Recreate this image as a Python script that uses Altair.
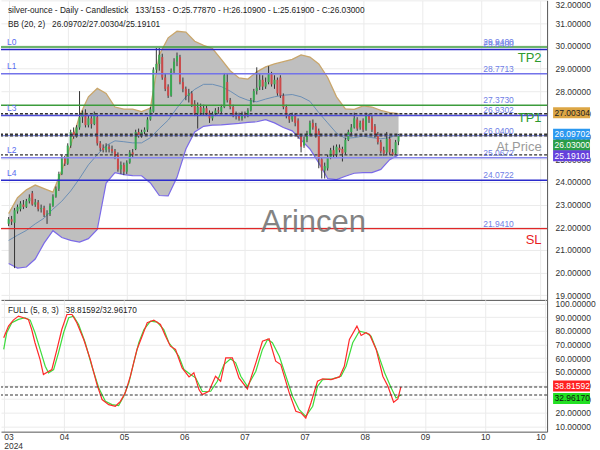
import altair as alt
import pandas as pd

# ---------------- data ----------------
opens = [22.15, 22.35, 22.20, 22.70, 22.80, 23.00, 22.90, 23.15, 23.50, 23.00,
         23.10, 22.80, 22.85, 22.55, 22.60, 22.95, 23.35, 23.70, 24.35, 25.05,
         24.80, 25.60, 26.20, 26.00, 26.40, 26.85, 27.05, 26.50, 26.80, 26.55,
         26.85, 25.70, 25.50, 25.40, 25.55, 25.45, 25.35, 25.20, 24.55, 24.75,
         24.45, 24.85, 25.30, 25.45, 26.20, 26.05, 26.20, 26.30, 26.75, 27.10,
         28.95, 29.20, 29.50, 28.60, 28.20, 27.80, 28.90, 29.30, 29.50, 28.40,
         28.10, 27.80, 27.90, 27.45, 27.00, 27.30, 27.05, 27.25, 27.05, 26.80,
         27.00, 27.15, 27.10, 27.30, 28.40, 27.60, 27.30, 26.95, 26.90, 26.80,
         27.00, 26.90, 27.15, 27.60, 28.00, 28.20, 28.50, 28.20, 28.40, 28.75,
         28.30, 28.50, 28.60, 27.80, 27.30, 26.90, 26.75, 26.90, 26.70, 26.00,
         25.60, 25.85, 26.10, 26.60, 26.45, 26.25, 25.00, 24.50, 24.60, 25.10,
         25.40, 25.20, 25.50, 25.45, 25.30, 25.85, 26.20, 26.40, 26.75, 26.40,
         26.70, 26.30, 26.90, 26.80, 26.45, 26.10, 25.75, 25.40, 25.30, 25.90,
         25.30, 25.25, 25.7787]
highs = [22.45, 22.50, 22.85, 23.00, 23.15, 23.20, 23.25, 23.45, 23.60, 23.25,
         23.20, 23.00, 22.95, 22.75, 23.05, 23.45, 23.80, 24.45, 25.20, 25.15,
         25.70, 26.30, 26.40, 26.50, 28.00, 27.15, 27.20, 26.95, 26.90, 27.10,
         26.95, 25.80, 25.65, 25.70, 25.65, 25.60, 25.45, 25.30, 24.90, 24.85,
         24.95, 25.40, 25.45, 26.30, 26.35, 26.30, 26.40, 26.85, 27.30, 29.05,
         29.90, 29.90, 29.65, 28.80, 28.30, 29.00, 29.45, 29.70, 29.60, 28.60,
         28.20, 28.10, 28.00, 27.60, 27.50, 27.45, 27.40, 27.35, 27.15, 27.10,
         27.25, 27.30, 27.40, 28.80, 28.75, 27.70, 27.40, 27.10, 27.05, 27.10,
         27.10, 27.25, 27.70, 28.10, 29.05, 28.75, 28.70, 28.60, 29.10, 28.85,
         28.70, 28.60, 28.70, 27.90, 27.40, 27.00, 27.05, 27.00, 26.80, 26.10,
         26.00, 26.25, 26.70, 26.75, 26.60, 26.35, 25.10, 24.85, 25.20, 25.50,
         25.60, 25.65, 25.65, 25.55, 25.95, 26.30, 26.55, 27.05, 26.85, 26.70,
         26.80, 27.05, 27.00, 26.90, 26.55, 26.20, 25.85, 25.55, 26.20, 26.00,
         25.45, 25.85, 26.109]
lows = [22.05, 22.10, 20.20, 22.60, 22.70, 22.80, 22.85, 23.05, 22.95, 22.90,
        22.70, 22.65, 22.45, 22.15, 22.50, 22.90, 23.30, 23.60, 24.30, 24.70,
        24.75, 25.50, 25.90, 25.95, 26.30, 26.60, 26.40, 26.40, 26.35, 26.50,
        25.60, 25.35, 25.30, 25.30, 25.30, 25.25, 25.00, 24.45, 24.35, 24.30,
        24.35, 24.80, 25.10, 25.40, 25.95, 25.95, 26.10, 26.20, 26.70, 27.05,
        28.80, 28.90, 28.50, 28.00, 27.70, 27.75, 28.80, 29.10, 28.30, 27.95,
        27.60, 27.50, 27.30, 26.90, 26.35, 26.95, 26.95, 26.90, 26.60, 26.70,
        26.90, 27.00, 27.00, 27.25, 27.50, 27.20, 26.85, 26.75, 26.70, 26.70,
        26.80, 26.85, 27.10, 27.50, 27.85, 28.05, 28.05, 28.10, 28.30, 28.20,
        28.10, 27.80, 27.70, 27.20, 26.80, 26.60, 26.65, 26.45, 25.90, 25.30,
        25.50, 25.75, 26.05, 26.30, 25.95, 24.60, 24.15, 24.15, 24.50, 25.00,
        25.10, 25.10, 25.30, 24.90, 25.20, 25.80, 26.10, 26.35, 26.25, 26.30,
        26.20, 26.25, 26.60, 26.20, 25.95, 25.65, 25.25, 25.15, 25.20, 25.20,
        25.15, 25.20, 25.619]
closes = [22.35, 22.25, 22.75, 22.90, 23.05, 22.90, 23.15, 23.30, 23.00, 23.10,
          22.80, 22.85, 22.55, 22.60, 22.95, 23.35, 23.70, 24.35, 25.10, 24.80,
          25.60, 26.20, 26.00, 26.40, 26.85, 27.05, 26.50, 26.80, 26.55, 27.00,
          25.70, 25.50, 25.40, 25.55, 25.45, 25.35, 25.15, 24.55, 24.75, 24.45,
          24.85, 25.30, 25.20, 26.20, 26.05, 26.20, 26.30, 26.75, 27.20, 28.95,
          29.20, 29.60, 28.60, 28.10, 27.80, 28.90, 29.30, 29.55, 28.40, 28.10,
          27.80, 27.90, 27.40, 27.00, 27.30, 27.05, 27.25, 27.00, 26.80, 27.00,
          27.15, 27.10, 27.30, 28.70, 27.60, 27.30, 26.95, 26.90, 26.80, 27.00,
          26.90, 27.15, 27.60, 28.00, 28.15, 28.50, 28.20, 28.40, 28.75, 28.30,
          28.50, 27.90, 27.80, 27.30, 26.90, 26.75, 26.95, 26.60, 26.00, 25.55,
          25.85, 26.15, 26.60, 26.40, 26.10, 25.00, 24.50, 24.70, 25.10, 25.40,
          25.20, 25.55, 25.40, 25.25, 25.85, 26.20, 26.40, 26.80, 26.35, 26.60,
          26.30, 26.95, 26.75, 26.30, 26.05, 25.75, 25.35, 25.25, 25.90, 25.30,
          25.20, 25.75, 26.03]

band_idx = list(range(0, 133, 3))
bb_upper = [22.60, 23.30, 23.65, 23.86, 23.70, 23.55, 24.50, 25.60, 26.90, 27.75,
            28.12, 27.90, 27.30, 27.21, 27.21, 27.10, 27.25, 29.60, 30.35, 30.64,
            30.60, 30.20, 30.02, 29.88, 29.40, 28.90, 28.58, 28.53, 28.85, 29.07,
            29.20, 29.30, 29.40, 29.60, 29.50, 29.20, 28.60, 27.75, 27.22, 27.20,
            27.35, 27.30, 27.15, 27.05, 27.00304]
bb_mid = [21.42, 21.65, 21.86, 22.15, 22.40, 22.80, 23.15, 23.60, 24.15, 24.75,
          25.20, 25.60, 25.81, 25.77, 25.72, 25.72, 25.95, 26.35, 26.72, 27.26,
          27.75, 28.08, 28.30, 28.30, 28.20, 28.00, 27.75, 27.60, 27.53, 27.65,
          27.75, 27.82, 27.85, 27.75, 27.55, 27.05, 26.60, 26.15, 25.92, 25.95,
          26.02, 25.95, 25.90, 25.95, 26.09702]
bb_lower = [20.40, 20.20, 20.25, 20.60, 21.30, 21.85, 21.55, 21.42, 21.35, 21.50,
            21.90, 23.95, 24.41, 24.32, 24.28, 24.27, 23.95, 23.40, 23.38, 24.20,
            25.45, 26.20, 26.45, 26.50, 26.51, 26.55, 26.58, 26.62, 26.65, 26.74,
            26.60, 26.40, 26.25, 25.85, 25.45, 24.84, 24.15, 24.10, 24.25, 24.38,
            24.41, 24.41, 24.55, 24.98, 25.19101]

k_idx = [0, 1.6, 3.2, 4.9, 6.6, 8.2, 9.3, 10.4, 12.1, 13.2, 14.3, 16, 17.7, 19.3, 21,
         22.7, 24.3, 26.6, 28.8, 31, 32.7, 34.9, 37.1, 38.8, 40.4, 42.1, 44.3, 46, 47.7,
         49.9, 52.1, 53.8, 55.4, 57.1, 59.3, 61.6, 63.2, 64.9, 66, 68.2, 70.4, 72.1, 73.8,
         76, 78.2, 81, 83.8, 86, 88.2, 90.4, 92.1, 94.9, 97.1, 98.8, 100.4, 102.1, 104.3,
         106, 108.8, 111.6, 113.2, 114.9, 117.4, 118.8, 120.4, 121.6, 123.8, 126, 127.7,
         129.6, 131, 132]
k_val = [74.8, 83.4, 87.8, 90.7, 89.5, 88.3, 80.9, 71.2, 58.9, 47.9, 49.4, 51.6, 66.3,
         80.9, 91.9, 91.9, 85.8, 73.6, 58.9, 40.6, 29.6, 25.9, 24.7, 28.3, 34.5, 46.7,
         66.3, 76.0, 85.8, 87.8, 84.6, 76.0, 68.7, 66.3, 52.8, 46.2, 49.2, 36.9, 33.2,
         35.7, 46.7, 43.0, 60.2, 60.2, 45.5, 37.4, 56.5, 72.3, 74.1, 57.7, 55.2, 34.5,
         21.0, 19.8, 16.1, 27.1, 43.0, 44.8, 44.2, 46.2, 54.0, 73.6, 83.4, 76.5, 78.5,
         77.3, 66.3, 46.7, 39.3, 27.6, 30.0, 38.81592]
d_idx = [0, 1, 2.7, 4.9, 7.1, 8.8, 10.4, 12.1, 13.8, 14.9, 16.6, 18.2, 19.9, 21.6, 23.2,
         24.9, 27.1, 29.3, 31.6, 33.8, 36, 38.2, 39.9, 41.6, 43.2, 44.9, 46.6, 48.8, 51,
         53.2, 54.9, 56.6, 58.2, 59.9, 62.1, 63.8, 66, 68.8, 71, 73.2, 75.4, 77.1, 78.8,
         81, 83.8, 86, 87.7, 89.3, 91.6, 93.8, 96, 98.2, 100.4, 102.7, 104.3, 106, 109.3,
         112.1, 113.8, 116, 118.2, 120.4, 122.1, 124.3, 126.6, 128.8, 130.4, 132]
d_val = [66.3, 78.5, 85.8, 88.3, 89.5, 87.8, 78.5, 66.3, 54.0, 49.2, 51.6, 63.8, 78.5,
         89.5, 90.7, 84.6, 71.2, 54.0, 38.1, 28.3, 25.9, 25.2, 32.0, 41.8, 56.5, 71.2,
         80.9, 87.0, 86.3, 80.9, 71.2, 66.3, 61.3, 51.6, 47.9, 45.5, 35.5, 35.7, 43.0,
         55.2, 59.4, 56.5, 46.7, 39.3, 50.3, 66.3, 73.6, 71.2, 61.3, 46.7, 32.0, 22.2,
         17.3, 24.7, 39.3, 44.2, 44.8, 46.7, 54.0, 71.2, 79.7, 78.5, 76.0, 63.8, 49.2,
         38.1, 30.8, 32.9617]

month_ticks = [0, 20, 40, 60, 80, 100, 120, 140, 160, 180]
month_labels = ["03", "04", "05", "06", "07", "07", "08", "09", "10", "10"]
year_label = "2024"
price_ticks = list(range(19, 33))
stoch_ticks = list(range(10, 101, 10))

level_names = ["L0", "L1", "L3", "L2", "L4"]
level_values = [29.84, 28.7713, 26.9302, 25.0672, 24.0722]
target_names = ["TP2", "TP1", "At Price", "SL"]
target_values = [29.94, 27.373, 26.04, 21.941]

bb_now = [26.09702, 27.00304, 25.19101]   # mid / upper / lower
stoch_now = [38.81592, 32.96170]
bar_no, bar_total = 133, 153
symbol = "silver-ounce"

# ---------------- styles ----------------
FONT = "Liberation Sans"
GRID = "#ebebeb"
AXIS = "#555555"
LABEL = "#333333"
W, H_MAIN, H_LOW = 547, 300, 132
FS = 8.5
level_colors = ["#2626c4", "#7373ea", "#4d4dd8", "#8585ee", "#2b2bcc"]
level_widths = [1.5, 1.5, 1.5, 1.5, 1.3]
target_line_colors = ["#3c9c3c", "#3c9c3c", "#7585e8", "#e02828"]
target_line_widths = [1.5, 1.5, 1.0, 1.3]
target_text_colors = ["#2e9a2e", "#2e9a2e", "#9a9a9a", "#e8201e"]
target_text_dy = [11, 13, 11, 11.5]
main_box_bg = ["#dca645", "#2b98f0", "#2a9d48", "#6540dc"]
main_box_fg = ["#222222", "#ffffff", "#ffffff", "#ffffff"]
main_box_shift = [-1, 0, 9.5, 1]
low_box_bg = ["#ff2121", "#22e022"]
low_box_fg = ["#ffffff", "#111111"]
low_box_shift = [-1, 3.5]

x_scale = alt.Scale(domain=[-0.9, 180.6], nice=False, zero=False)
p_scale = alt.Scale(domain=[18.8, 32.0], nice=False, zero=False)
s_scale = alt.Scale(domain=[6.1, 102.6], nice=False, zero=False)

common_axis = dict(grid=True, gridColor=GRID, domain=True, domainColor=AXIS, ticks=False,
                   labelOverlap=False, labelFontSize=FS, labelColor=LABEL, title=None)
x_main_axis = alt.Axis(values=month_ticks, labels=False, **common_axis)

conds = []
for t, lab in zip(month_ticks, month_labels):
    if t == month_ticks[0]:
        conds.append(f"datum.value == {t} ? ['{lab}', '{year_label}']")
    else:
        conds.append(f"datum.value == {t} ? '{lab}'")
lab_expr = " : ".join(conds) + " : ''"
x_low_axis = alt.Axis(values=month_ticks, labelExpr=lab_expr, labelFlush=5, labelPadding=1,
                      labelLineHeight=9, **common_axis)
p_axis = alt.Axis(orient="right", values=price_ticks, format=".5f", labelFlush=True,
                  labelPadding=8, **common_axis)
s_axis = alt.Axis(orient="right", values=stoch_ticks, format=".5f", labelPadding=8,
                  **common_axis)


def XM(f="i"):
    return alt.X(f"{f}:Q", scale=x_scale, axis=x_main_axis)


def XL(f="i"):
    return alt.X(f"{f}:Q", scale=x_scale, axis=x_low_axis)


def P(f):
    return alt.Y(f"{f}:Q", scale=p_scale, axis=p_axis)


def S(f):
    return alt.Y(f"{f}:Q", scale=s_scale, axis=s_axis)


def one(text):
    return pd.DataFrame({"t": [text]})


# ---------------- main panel ----------------
candles = pd.DataFrame({"i": list(range(len(closes))), "o": opens, "h": highs,
                        "l": lows, "c": closes})
candles["dir"] = ["up" if c >= o else "down" for o, c in zip(opens, closes)]
band = pd.DataFrame({"i": band_idx, "up": bb_upper, "mid": bb_mid, "lo": bb_lower})

area = alt.Chart(band).mark_area(color="#bfbfbf").encode(x=XM(), y=P("up"), y2="lo:Q")
up_line = alt.Chart(band).mark_line(color="#c9a66b", strokeWidth=1.3).encode(x=XM(), y=P("up"))
lo_line = alt.Chart(band).mark_line(color="#7b6ae8", strokeWidth=1.2).encode(x=XM(), y=P("lo"))
mid_line = alt.Chart(band).mark_line(color="#6b8fb5", strokeWidth=1).encode(x=XM(), y=P("mid"))

wicks = alt.Chart(candles).mark_rule(color="#333333", strokeWidth=1).encode(
    x=XM(), y=P("l"), y2="h:Q")
bodies = alt.Chart(candles).mark_bar(width=2).encode(
    x=XM(), y=P("o"), y2="c:Q",
    color=alt.Color("dir:N", scale=alt.Scale(domain=["up", "down"],
                                             range=["#39a852", "#cc4a4a"]), legend=None))

lines_df = pd.DataFrame({
    "v": level_values + target_values,
    "col": level_colors + target_line_colors,
    "w": level_widths + target_line_widths,
})
lines_df = lines_df.iloc[::-1]
solid = alt.Chart(lines_df).mark_rule().encode(
    y=P("v"), color=alt.Color("col:N", scale=None),
    strokeWidth=alt.StrokeWidth("w:Q", scale=None))

dash_df = pd.DataFrame({"v": bb_now + [closes[-1]]})
dashed = alt.Chart(dash_df).mark_rule(color="#333333", strokeDash=[3, 2], strokeWidth=1.4).encode(
    y=P("v"))

lvl_txt_df = pd.DataFrame({"v": level_values, "t": level_names})
lvl_txt = alt.Chart(lvl_txt_df).mark_text(align="left", baseline="middle", dy=-7.5,
                                          fontSize=FS, color="#5a6cf0").encode(
    x=alt.value(6), y=P("v"), text="t:N")

val_df = pd.DataFrame({"v": level_values + target_values})
val_df["t"] = [f"{v:.4f}" for v in val_df["v"]]
val_txt = alt.Chart(val_df).mark_text(align="left", baseline="middle", dy=-5,
                                      fontSize=FS, color="#6f80e6").encode(
    x=alt.value(483), y=P("v"), text="t:N")

tgt_layers = []
for name, v, col, dy in zip(target_names, target_values, target_text_colors, target_text_dy):
    d = pd.DataFrame({"v": [v], "t": [name]})
    tgt_layers.append(alt.Chart(d).mark_text(align="right", baseline="middle", dy=dy,
                                             fontSize=13, color=col).encode(
        x=alt.value(541.5), y=P("v"), text="t:N"))

water = alt.Chart(one("Arincen")).mark_text(fontSize=31, color="#767676", opacity=0.9,
                                            baseline="middle").encode(
    x=alt.value(313), y=alt.value(223), text="t:N")

hdr1 = (f"{symbol} - Daily - Candlestick \u00a0\u00a0{bar_no}/{bar_total} - "
        f"O:{opens[-1]:.5f} - H:{highs[-1]:.5f} - L:{lows[-1]:.5f} - C:{closes[-1]:.5f}")
hdr2 = f"BB (20, 2) \u00a0\u00a0{bb_now[0]:.5f}/{bb_now[1]:.5f}/{bb_now[2]:.5f}"
h1 = alt.Chart(one(hdr1)).mark_text(align="left", baseline="middle", fontSize=8.3,
                                    color="#222222").encode(
    x=alt.value(7), y=alt.value(11), text="t:N")
h2 = alt.Chart(one(hdr2)).mark_text(align="left", baseline="middle", fontSize=8.3,
                                    color="#222222").encode(
    x=alt.value(7), y=alt.value(25), text="t:N")

main_boxes = []
box_vals = [bb_now[1], bb_now[0], closes[-1], bb_now[2]]
for v, bg, fg, off in zip(box_vals, main_box_bg, main_box_fg, main_box_shift):
    d = pd.DataFrame({"v": [v], "t": [f"{v:.5f}"]})
    main_boxes.append(alt.Chart(d).mark_rule(color=bg, strokeWidth=11, yOffset=off).encode(
        x=alt.value(553), x2=alt.value(590), y=P("v")))
    main_boxes.append(alt.Chart(d).mark_text(align="left", baseline="middle", dy=off,
                                             fontSize=FS, color=fg).encode(
        x=alt.value(554.5), y=P("v"), text="t:N"))

main = alt.layer(area, up_line, lo_line, mid_line, wicks, bodies, solid, dashed,
                 lvl_txt, val_txt, *tgt_layers, water, h1, h2, *main_boxes).properties(
    width=W, height=H_MAIN)

# ---------------- stochastic panel ----------------
k_df = pd.DataFrame({"i": k_idx, "v": k_val})
d_df = pd.DataFrame({"i": d_idx, "v": d_val})

d_line = alt.Chart(d_df).mark_line(color="#3ddc3d", strokeWidth=1.2).encode(x=XL(), y=S("v"))
k_line = alt.Chart(k_df).mark_line(color="#ff2a2a", strokeWidth=1.2).encode(x=XL(), y=S("v"))

sdash = alt.Chart(pd.DataFrame({"v": stoch_now})).mark_rule(
    color="#333333", strokeDash=[3, 2], strokeWidth=1.2).encode(y=S("v"))

hdr3 = f"FULL (5, 8, 3) \u00a0\u00a0{stoch_now[0]:.5f}/{stoch_now[1]:.5f}"
h3 = alt.Chart(one(hdr3)).mark_text(align="left", baseline="middle", fontSize=8.3,
                                    color="#222222").encode(
    x=alt.value(7), y=alt.value(11.5), text="t:N")

low_boxes = []
for v, bg, fg, off in zip(stoch_now, low_box_bg, low_box_fg, low_box_shift):
    d = pd.DataFrame({"v": [v], "t": [f"{v:.5f}"]})
    low_boxes.append(alt.Chart(d).mark_rule(color=bg, strokeWidth=11, yOffset=off).encode(
        x=alt.value(553), x2=alt.value(590), y=S("v")))
    low_boxes.append(alt.Chart(d).mark_text(align="left", baseline="middle", dy=off,
                                            fontSize=FS, color=fg).encode(
        x=alt.value(554.5), y=S("v"), text="t:N"))

lower = alt.layer(d_line, k_line, sdash, h3, *low_boxes).properties(width=W, height=H_LOW)

chart = alt.vconcat(main, lower, spacing=0, bounds="flush",
                    padding={"left": 0, "top": 0, "right": 4, "bottom": 0}).configure(
    font=FONT, background="white").configure_view(stroke=None)

chart.save("out.html", embed_options={"renderer": "svg", "actions": False})
